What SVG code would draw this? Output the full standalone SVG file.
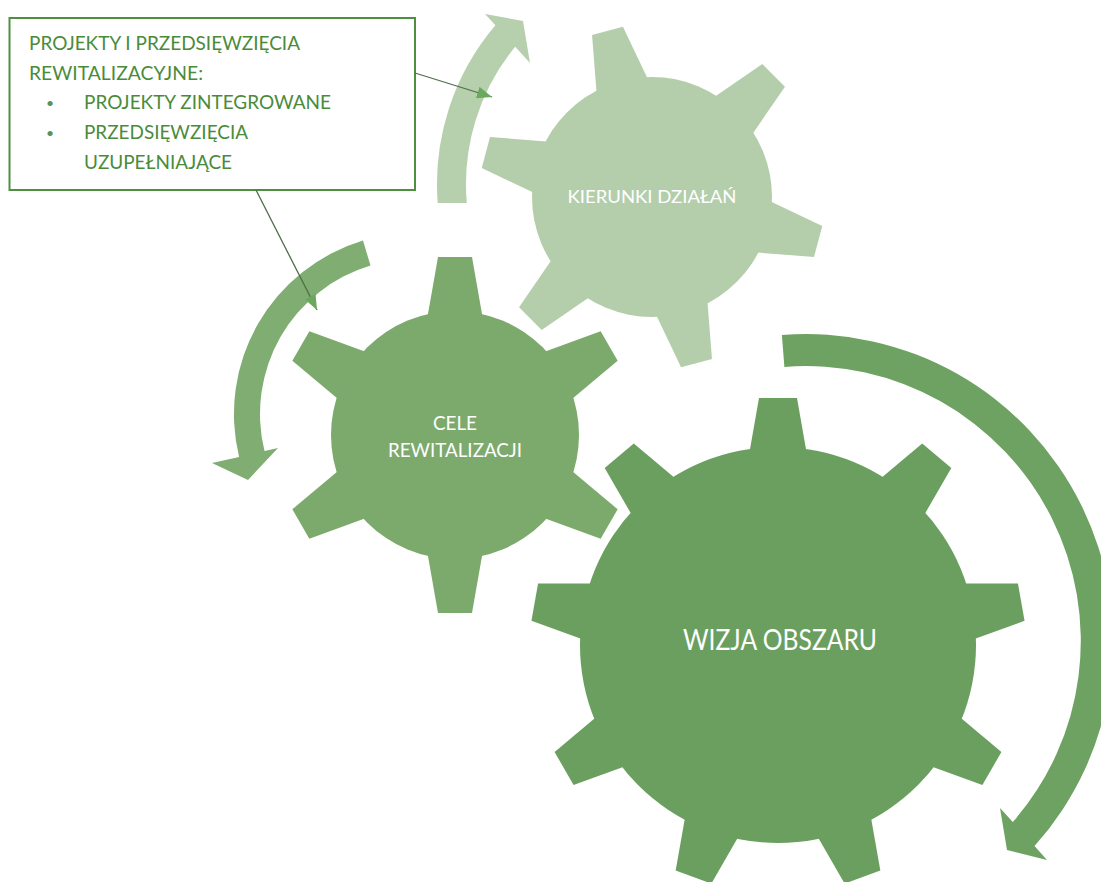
<svg xmlns="http://www.w3.org/2000/svg" xmlns:xlink="http://www.w3.org/1999/xlink" width="1101" height="882" viewBox="0 0 1101 882">
<style>
.t{font-family:Lato,"Liberation Sans","DejaVu Sans",sans-serif}
.box{fill:#ffffff;stroke:#4f8f40;stroke-width:2}
.bt{fill:#4a8b3b;font-size:18.5px}
.bul{fill:#5a9450;font-size:14px;text-anchor:middle}
.gt{fill:#ffffff;text-anchor:middle}
.big{fill:#6b9f5f}
.mid{fill:#7caa6d}
.lt{fill:#b4ceab}
.conn{stroke:#4d6e48;stroke-width:1.3;fill:none}
</style>
<defs>
<polygon id="toothBig" points="-29.9,-185 -19,-247 19,-247 29.9,-185"/>
<polygon id="toothMid" points="-28.6,-112 -17,-178 17,-178 28.6,-112"/>
<polygon id="toothLt" points="-27.5,-110 -16,-172 16,-172 27.5,-110"/>
<marker id="ah" markerUnits="userSpaceOnUse" markerWidth="16" markerHeight="12" refX="15" refY="6" orient="auto">
<path d="M0,0 L15,6 L0,12 Z" fill="#6aa95b"/>
</marker>
</defs>
<rect width="1101" height="882" fill="#ffffff"/>

<g id="arrows">
<path id="arrow-a" d="M437.7,203 A245 245 0 0 1 495.4,25.3 L485,14 L523,21 L530,63 L515.2,46.8 A216 216 0 0 0 466.8,203 Z" fill="#b6d0ad"/>
<path id="arrow-b" d="M363,240.6 A181 181 0 0 0 239.1,456.9 L212,463 L248,480 L278,448 L264.5,451.1 A155 155 0 0 1 370.5,265.5 Z" fill="#80ad71"/>
<path id="arrow-c" d="M781.9,335 A307 307 0 0 1 1034.5,846.1 L1047,860 L1007,850 L1000,808 L1012.8,822.1 A275 275 0 0 0 784.4,366.9 Z" fill="#6ea262"/>
</g>

<g id="gear-kierunki" class="lt">
<g transform="translate(652,197)">
<circle r="120"/>
<use xlink:href="#toothLt" transform="rotate(-15)"/>
<use xlink:href="#toothLt" transform="rotate(45)"/>
<use xlink:href="#toothLt" transform="rotate(105)"/>
<use xlink:href="#toothLt" transform="rotate(165)"/>
<use xlink:href="#toothLt" transform="rotate(225)"/>
<use xlink:href="#toothLt" transform="rotate(285)"/>
</g>
<text class="t gt" x="652" y="203" font-size="18" textLength="169" lengthAdjust="spacingAndGlyphs">KIERUNKI DZIAŁAŃ</text>
</g>

<g id="gear-cele" class="mid">
<g transform="translate(455,435)">
<circle r="124"/>
<use xlink:href="#toothMid" transform="rotate(0)"/>
<use xlink:href="#toothMid" transform="rotate(60)"/>
<use xlink:href="#toothMid" transform="rotate(120)"/>
<use xlink:href="#toothMid" transform="rotate(180)"/>
<use xlink:href="#toothMid" transform="rotate(240)"/>
<use xlink:href="#toothMid" transform="rotate(300)"/>
</g>
<text class="t gt" x="455" y="430" font-size="18.5" textLength="44" lengthAdjust="spacingAndGlyphs">CELE</text>
<text class="t gt" x="455" y="457" font-size="18.5" textLength="134" lengthAdjust="spacingAndGlyphs">REWITALIZACJI</text>
</g>

<g id="gear-wizja" class="big">
<g transform="translate(778,645)">
<circle r="198"/>
<use xlink:href="#toothBig" transform="rotate(0)"/>
<use xlink:href="#toothBig" transform="rotate(40)"/>
<use xlink:href="#toothBig" transform="rotate(80)"/>
<use xlink:href="#toothBig" transform="rotate(120)"/>
<use xlink:href="#toothBig" transform="rotate(160)"/>
<use xlink:href="#toothBig" transform="rotate(200)"/>
<use xlink:href="#toothBig" transform="rotate(240)"/>
<use xlink:href="#toothBig" transform="rotate(280)"/>
<use xlink:href="#toothBig" transform="rotate(320)"/>
</g>
<text class="t gt" x="780" y="650" font-size="28" textLength="194" lengthAdjust="spacingAndGlyphs">WIZJA OBSZARU</text>
</g>

<g id="note-box">
<rect class="box" x="9.5" y="18" width="405.5" height="172"/>
<text class="t bt" x="29" y="50" textLength="271" lengthAdjust="spacingAndGlyphs">PROJEKTY I PRZEDSIĘWZIĘCIA</text>
<text class="t bt" x="29" y="79.7" textLength="174" lengthAdjust="spacingAndGlyphs">REWITALIZACYJNE:</text>
<text class="t bul" x="50" y="108">•</text>
<text class="t bt" x="84" y="109.4" textLength="247" lengthAdjust="spacingAndGlyphs">PROJEKTY ZINTEGROWANE</text>
<text class="t bul" x="50" y="137.7">•</text>
<text class="t bt" x="84" y="139.1" textLength="164" lengthAdjust="spacingAndGlyphs">PRZEDSIĘWZIĘCIA</text>
<text class="t bt" x="84" y="168.8" textLength="148" lengthAdjust="spacingAndGlyphs">UZUPEŁNIAJĄCE</text>
</g>

<g id="connectors">
<line class="conn" x1="415" y1="73" x2="492" y2="97" marker-end="url(#ah)"/>
<line class="conn" x1="256" y1="190" x2="317" y2="310" marker-end="url(#ah)"/>
</g>
</svg>
